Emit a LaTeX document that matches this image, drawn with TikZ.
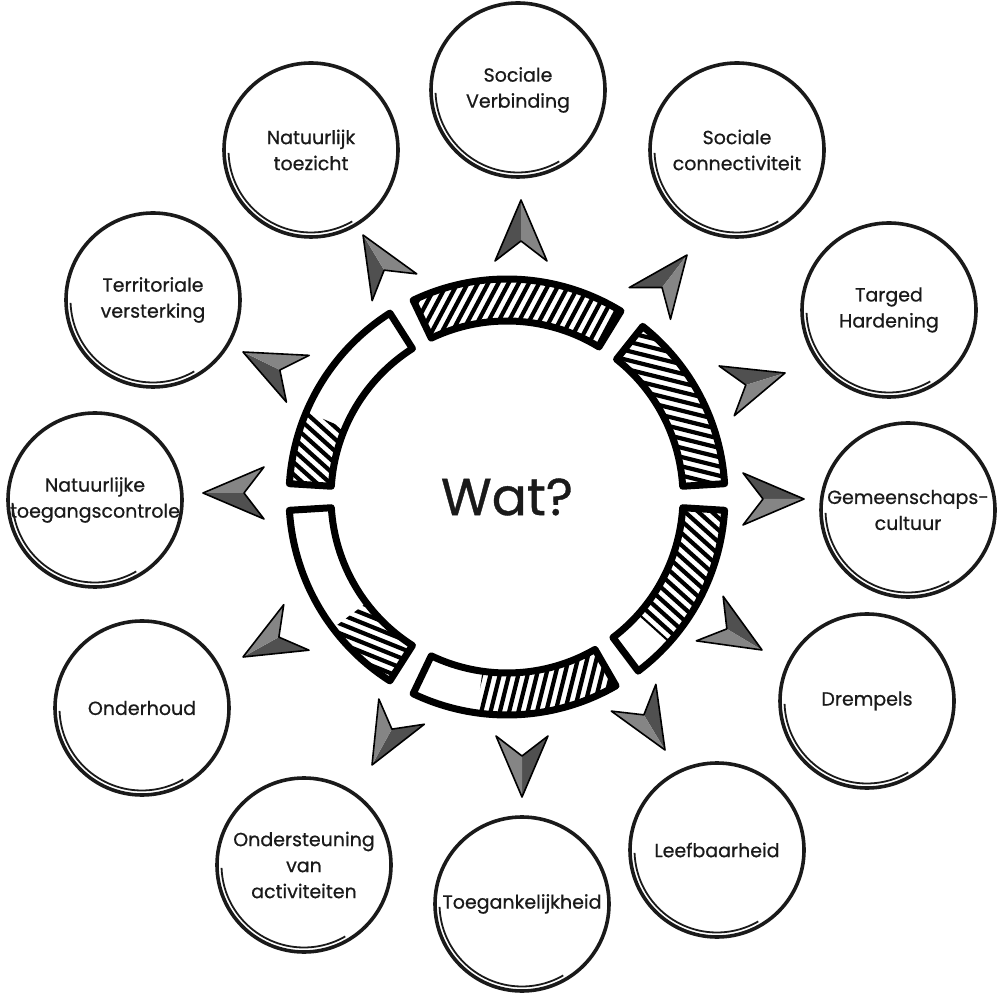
\documentclass[tikz,border=0pt]{standalone}
\usepackage{fontspec}
\setmainfont{Poppins}
\newfontfamily\labelfont{Poppins}[FakeBold=0.7]
\definecolor{arrdarkc}{HTML}{505050}
\definecolor{arrlightc}{HTML}{858585}
\definecolor{inkc}{HTML}{1A1A1A}
\newcommand\ringseg[2]{(#1:218) arc[start angle=#1,end angle=#2,radius=218] -- (#2:176) arc[start angle=#2,end angle=#1,radius=176] -- cycle}
\newcommand\hatchpart[3]{%
  \begin{scope}
    \clip \ringseg{#1}{#2};
    \begin{scope}[rotate=#3]
      \foreach \k in {-243,-234,...,243} \draw[hatchline] (-250,\k) -- (250,\k);
    \end{scope}
  \end{scope}}
\newcommand\kite[3]{%
  \begin{scope}[shift={(#1,#2)}, rotate=#3]
    \fill[arrdarkc] (0,0) -- (-61,26) -- (-41,0) -- cycle;
    \fill[arrlightc] (0,0) -- (-41,0) -- (-61,-26) -- cycle;
    \draw[arrline] (0,0) -- (-61,26) -- (-41,0) -- (-61,-26) -- cycle;
  \end{scope}}
\begin{document}
\begin{tikzpicture}[x=0.5pt,y=0.5pt,
  bubble/.style={circle, draw=inkc, line width=1.8pt, minimum size=87pt, inner sep=0pt},
  bubbletext/.style={align=center, font=\labelfont\fontsize{9.5}{13}\selectfont, text=inkc, inner sep=0pt},
  sketch/.style={draw=inkc, line width=0.9pt},
  segline/.style={draw=black, line width=3.5pt, line join=round},
  hatchline/.style={line width=2.1pt, black},
  arrline/.style={draw=black, line width=0.8pt, line join=round}]
\useasboundingbox (0,0) rectangle (1000,996);
% outer circles
\foreach \n/\cx/\cy/\t in {
  sv/518/906/{Sociale\\Verbinding},
  sc/737/846/{Sociale\\connectiviteit},
  th/889/686/{Targed\\Hardening},
  gc/908/486/{Gemeenschaps-\\cultuur},
  dr/867/295/{Drempels},
  lb/717/146/{Leefbaarheid},
  tg/522/92/{Toegankelijkheid},
  oa/304/131/{Ondersteuning\\van\\activiteiten},
  oh/142/288/{Onderhoud},
  nt/95/496/{Natuurlijke\\toegangscontrole},
  tv/153/696/{Territoriale\\versterking},
  nz/311/846/{Natuurlijk\\toezicht}}{
  \node[bubble] (\n) at (\cx,\cy) {};
  \draw[sketch] (\n.center) ++(182:82.5) arc[start angle=182,end angle=300,radius=82.5];
  \node[bubbletext] (\n-t) at (\n.center) {\t};
}
% ring
\begin{scope}[shift={(507,499)}]
  \foreach \a/\b in {3.5/51.5, 58.5/115.5, 122.5/176.5, 183.5/237.5, 244.5/300, 307/356.5}
    \fill[white] \ringseg{\a}{\b};
  \hatchpart{3.5}{51.5}{-14}
  \hatchpart{58.5}{115.5}{62}
  \hatchpart{157}{176.5}{-42}
  \hatchpart{217}{237.5}{-22}
  \hatchpart{262}{300}{76}
  \hatchpart{318}{356.5}{-42}
  \foreach \a/\b in {3.5/51.5, 58.5/115.5, 122.5/176.5, 183.5/237.5, 244.5/300, 307/356.5}
    \draw[segline] \ringseg{\a}{\b};
\end{scope}
\node[font=\labelfont\fontsize{26}{30}\selectfont, text=inkc] (wat) at (507,499) {Wat?};
% arrowheads
\kite{521}{796}{90}
\kite{687}{741}{52.5}
\kite{785}{623}{17}
\kite{804}{497}{0}
\kite{762}{346}{-31}
\kite{665}{246}{-59}
\kite{522}{199}{-90}
\kite{372}{231}{-119}
\kite{243}{339}{-151}
\kite{203}{503}{180}
\kite{243}{644}{154}
\kite{363}{761}{121}
\end{tikzpicture}
\end{document}
